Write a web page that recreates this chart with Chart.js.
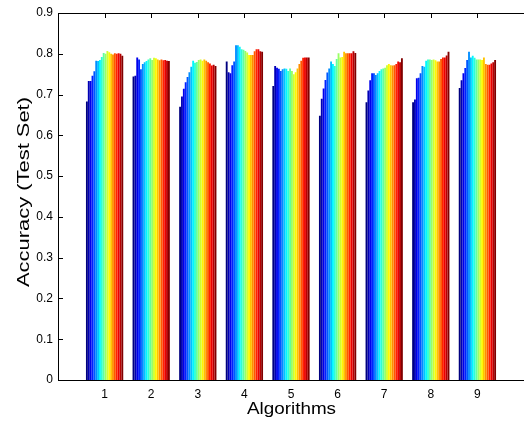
<!DOCTYPE html>
<html>
<head>
<meta charset="utf-8">
<script src="https://cdn.jsdelivr.net/npm/chart.js@4/dist/chart.umd.min.js"></script>
<style>
html,body{margin:0;padding:0;background:#fff;overflow:hidden;}
canvas{display:block;}
</style>
</head>
<body>
<canvas id="c" width="524" height="424"></canvas>
<script>
// Categories (algorithms) and tick labels
const algorithms = [1, 2, 3, 4, 5, 6, 7, 8, 9];
const yTicks = [0, 0.1, 0.2, 0.3, 0.4, 0.5, 0.6, 0.7, 0.8, 0.9];
const xTitle = 'Algorithms';
const yTitle = 'Accuracy (Test Set)';

// Accuracy of the 20 settings (series) for each algorithm
const acc1 = [0.683, 0.733, 0.733, 0.746, 0.757, 0.783, 0.782, 0.785, 0.792, 0.802, 0.800, 0.807, 0.804, 0.800, 0.798, 0.801, 0.800, 0.801, 0.800, 0.795];
const acc2 = [0.744, 0.746, 0.791, 0.786, 0.762, 0.775, 0.779, 0.782, 0.786, 0.789, 0.785, 0.790, 0.789, 0.786, 0.784, 0.786, 0.784, 0.785, 0.783, 0.782];
const acc3 = [0.670, 0.695, 0.714, 0.730, 0.743, 0.755, 0.768, 0.783, 0.778, 0.780, 0.785, 0.786, 0.783, 0.786, 0.783, 0.779, 0.776, 0.771, 0.773, 0.770];
const acc4 = [0.781, 0.755, 0.752, 0.772, 0.781, 0.821, 0.821, 0.817, 0.811, 0.810, 0.807, 0.803, 0.797, 0.797, 0.797, 0.806, 0.811, 0.811, 0.806, 0.805];
const acc5 = [0.721, 0.770, 0.766, 0.763, 0.758, 0.762, 0.764, 0.763, 0.758, 0.764, 0.758, 0.750, 0.755, 0.764, 0.775, 0.783, 0.790, 0.791, 0.791, 0.791];
const acc6 = [0.648, 0.690, 0.715, 0.736, 0.754, 0.764, 0.781, 0.775, 0.770, 0.787, 0.801, 0.791, 0.792, 0.805, 0.801, 0.801, 0.801, 0.801, 0.806, 0.802];
const acc7 = [0.681, 0.710, 0.735, 0.752, 0.752, 0.748, 0.752, 0.758, 0.762, 0.764, 0.766, 0.772, 0.775, 0.772, 0.771, 0.772, 0.775, 0.781, 0.779, 0.789];
const acc8 = [0.681, 0.688, 0.740, 0.741, 0.752, 0.770, 0.768, 0.783, 0.786, 0.786, 0.785, 0.786, 0.784, 0.781, 0.781, 0.787, 0.791, 0.791, 0.796, 0.805];
const acc9 = [0.716, 0.735, 0.752, 0.765, 0.785, 0.805, 0.791, 0.795, 0.790, 0.786, 0.786, 0.786, 0.785, 0.791, 0.775, 0.773, 0.773, 0.776, 0.779, 0.785];

const byAlgorithm = [acc1, acc2, acc3, acc4, acc5, acc6, acc7, acc8, acc9];
const nSeries = acc1.length;

function clamp(v) { return Math.max(0, Math.min(1, v)); }
function jet(t) {
  const r = clamp(Math.min(4 * t - 1.5, -4 * t + 4.5));
  const g = clamp(Math.min(4 * t - 0.5, -4 * t + 3.5));
  const b = clamp(Math.min(4 * t + 0.5, -4 * t + 2.5));
  return 'rgb(' + Math.round(r * 255) + ',' + Math.round(g * 255) + ',' + Math.round(b * 255) + ')';
}

const datasets = [];
for (let s = 0; s < nSeries; s++) {
  const c = jet(s / (nSeries - 1));
  datasets.push({
    label: 'Series ' + (s + 1),
    data: byAlgorithm.map(a => a[s]),
    backgroundColor: c,
    borderWidth: 0,
    barPercentage: 1.0,
    categoryPercentage: 0.8
  });
}

function stretchedText(ctx, text, cx, cy, rot, targetLen, font) {
  ctx.save();
  ctx.font = font;
  ctx.fillStyle = '#000';
  ctx.textAlign = 'center';
  ctx.textBaseline = 'middle';
  const w = ctx.measureText(text).width;
  ctx.translate(cx, cy);
  ctx.rotate(rot);
  ctx.scale(targetLen / w, 1);
  ctx.fillText(text, 0, 0);
  ctx.restore();
}

const framePlugin = {
  id: 'frame',
  afterDatasetsDraw(chart) {
    const {ctx, chartArea: a, scales} = chart;
    ctx.save();
    ctx.strokeStyle = '#000';
    ctx.lineWidth = 1;
    ctx.beginPath();
    ctx.moveTo(a.left + 0.5, a.top + 0.5); ctx.lineTo(a.left + 0.5, a.bottom + 0.5);
    ctx.moveTo(a.left, a.bottom + 0.5); ctx.lineTo(a.right + 2, a.bottom + 0.5);
    ctx.moveTo(a.left, a.top + 0.5); ctx.lineTo(a.right + 2, a.top + 0.5);
    yTicks.forEach(v => {
      const y = Math.round(scales.y.getPixelForValue(v)) + 0.5;
      ctx.moveTo(a.left, y); ctx.lineTo(a.left + 5, y);
    });
    algorithms.forEach(v => {
      const x = Math.round(scales.x.getPixelForValue(v)) + 0.5;
      ctx.moveTo(x, a.top); ctx.lineTo(x, a.top + 5);
    });
    ctx.stroke();
    ctx.restore();
    const midX = (a.left + a.right + 1) / 2;
    stretchedText(ctx, xTitle, midX, 409, 0, 89, '17px "Liberation Sans"');
    stretchedText(ctx, yTitle, 24, 192, -Math.PI / 2, 190, '17px "Liberation Sans"');
  }
};

new Chart(document.getElementById('c'), {
  type: 'bar',
  data: { labels: algorithms, datasets },
  options: {
    responsive: false,
    animation: false,
    events: [],
    layout: { padding: { top: 13, left: 0, right: 0, bottom: 0 } },
    plugins: { legend: { display: false }, tooltip: { enabled: false } },
    scales: {
      x: {
        type: 'linear',
        offset: false,
        min: 0,
        max: 10,
        grid: { display: false, drawTicks: false, offset: false },
        border: { display: false },
        afterBuildTicks: s => { s.ticks = algorithms.map(v => ({ value: v })); },
        afterFit: s => { s.height = 44; },
        ticks: {
          autoSkip: false, maxRotation: 0, padding: 7,
          color: '#000',
          font: { family: 'Liberation Sans', size: 12 },
          callback: v => String(v)
        }
      },
      y: {
        min: 0,
        max: 0.9,
        grid: { display: false, drawTicks: false },
        border: { display: false },
        afterBuildTicks: s => { s.ticks = yTicks.map(v => ({ value: v })); },
        afterFit: s => { s.width = 58; },
        ticks: {
          padding: 5,
          color: '#000',
          font: { family: 'Liberation Sans', size: 12 },
          callback: v => String(Math.round(v * 10) / 10)
        }
      }
    }
  },
  plugins: [framePlugin]
});
</script>
</body>
</html>
